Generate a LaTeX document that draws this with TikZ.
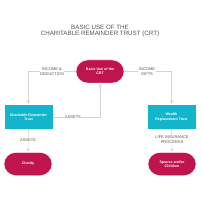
\documentclass[tikz,border=0pt]{standalone}
\usepackage{fontspec}
\setmainfont{Liberation Sans}
\usetikzlibrary{positioning}
\definecolor{crtpink}{HTML}{C0144F}
\definecolor{crtteal}{HTML}{12B5CB}
\definecolor{crtline}{HTML}{D4D4D4}
\definecolor{crttext}{HTML}{555555}

\begin{document}
\begin{tikzpicture}[
            x=1pt, y=-1pt,
            >=stealth,
            pill/.style={draw=white, fill=crtpink, rounded corners=11.5pt, minimum width=48pt, minimum height=23pt,
              text=white, font=\fontsize{3.6}{4.4}\selectfont\bfseries, align=center, inner sep=0pt},
            trust/.style={draw=white, fill=crtteal, minimum width=49pt, minimum height=25pt,
              text=white, font=\fontsize{3.6}{4.4}\selectfont\bfseries, align=center, inner sep=0pt},
            flow/.style={draw=crtline, line width=0.6pt, ->, shorten >=0.5pt},
            tag/.style={fill=white, text=crttext, font=\fontsize{4}{5.2}\selectfont, align=center, inner sep=0.6pt}
        ]
            \useasboundingbox (0,0) rectangle (200,200);

            \node[text=crttext, font=\fontsize{6.2}{6.6}\selectfont, align=center] (title) at (100,31)
                {BASIC USE OF THE\\CHARITABLE REMAINDER TRUST (CRT)};

            \node[pill] (crt) at (100,71.5) {Basic Use of the\\CRT};
            \node[trust] (charitable) at (28.5,117) {Charitable Remainder\\Trust};
            \node[trust] (wealth) at (171.5,117) {Wealth\\Replacement Trust};
            \node[pill] (charity) at (28,164) {Charity};
            \node[pill] (family) at (172,164) {Spouse and/or\\Children};

            \draw[flow] (crt.west) -| (charitable.north);
            \draw[flow] (crt.east) -| (wealth.north);
            \draw[flow] (charitable.east) -| (crt.south);
            \draw[flow] (charitable.south) -- (charity.north);
            \draw[flow] (wealth.south) -- (family.north);

            \node[tag] at (52,72) {INCOME \&\\DEDUCTION};
            \node[tag] at (147,72) {INCOME\\GIFTS};
            \node[tag] at (73,117) {ASSETS};
            \node[tag] at (28,140.5) {ASSETS};
            \node[tag] at (172,140) {LIFE INSURANCE\\PROCEEDS};
        \end{tikzpicture}
\end{document}
